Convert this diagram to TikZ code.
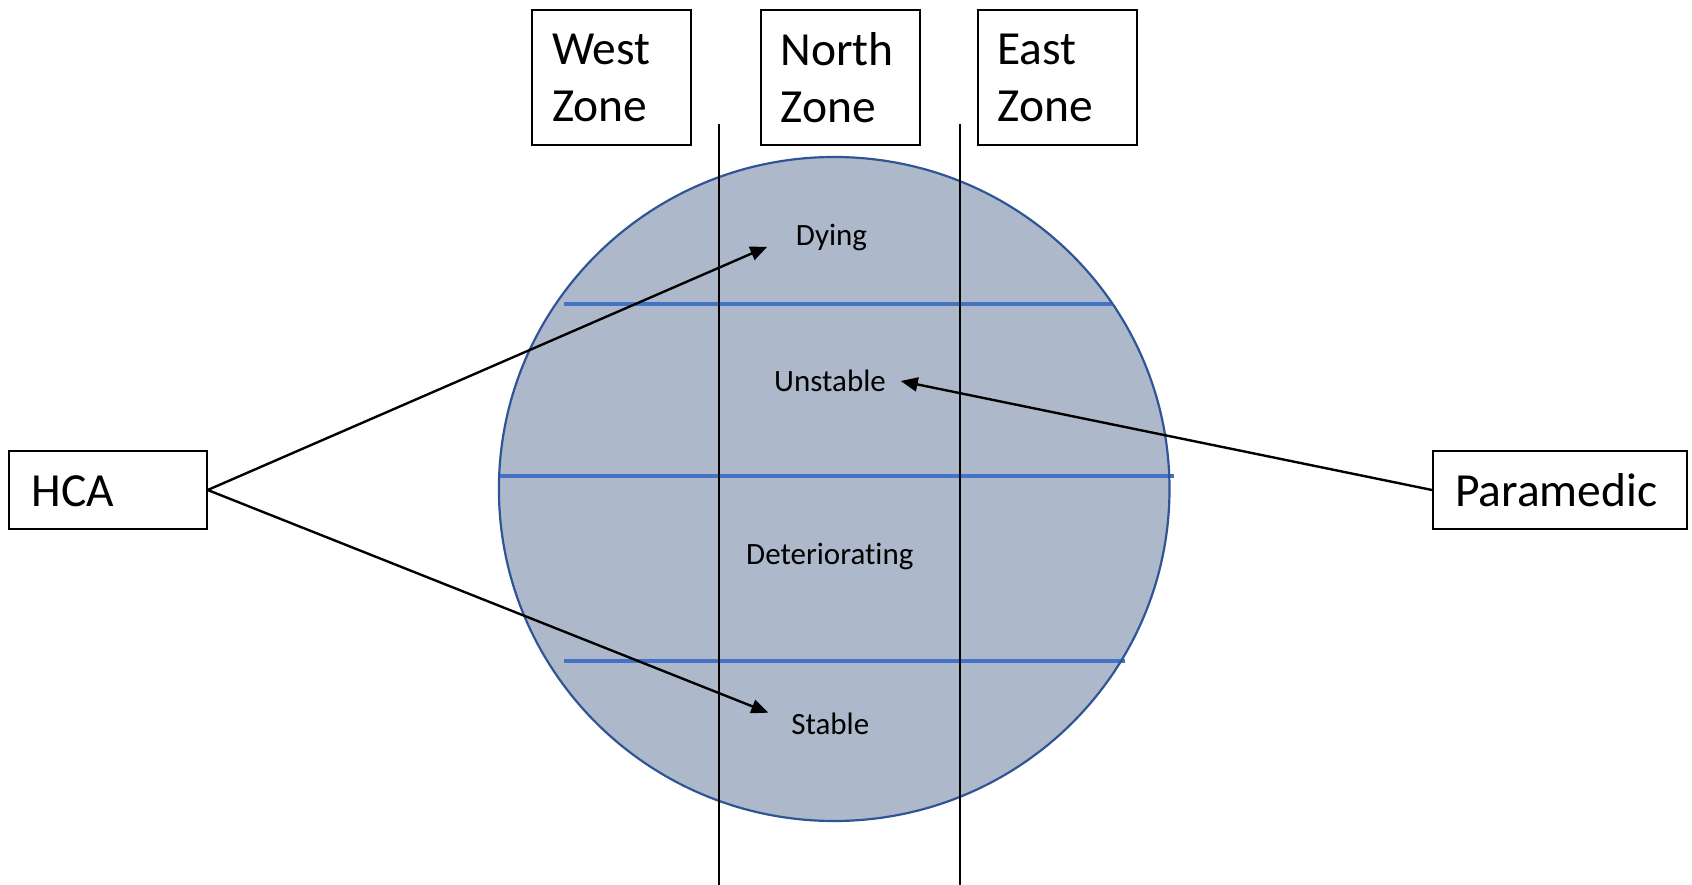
\documentclass[tikz,border=0pt]{standalone}
\usepackage{fontspec}
\setmainfont{Carlito}[Ligatures={NoCommon}]
\usetikzlibrary{arrows.meta}
\definecolor{discfill}{HTML}{ADB9CA}
\definecolor{discedge}{HTML}{2F5597}
\definecolor{bandline}{HTML}{4472C4}
\begin{document}
\begin{tikzpicture}[x=1pt,y=-1pt,
  zonebox/.style={draw=black,line width=2pt,fill=white,minimum width=159pt,minimum height=135pt,
    inner sep=0pt,text width=119pt,align=left,font=\fontsize{47.5}{57}\selectfont},
  rolebox/.style={draw=black,line width=2pt,fill=white,minimum height=78pt,inner sep=0pt,
    align=left,font=\fontsize{47.5}{57}\selectfont,text height=32pt,text depth=0pt},
  bandlabel/.style={anchor=base,inner sep=0pt,font=\fontsize{31}{37}\selectfont},
  zoneline/.style={draw=black,line width=1.8pt},
  band/.style={draw=bandline,line width=3.8pt},
  pointer/.style={draw=black,line width=2.4pt,-{Triangle[length=17pt,width=14pt]}}]
\useasboundingbox (0,0) rectangle (1692,885);
% disc
\fill[discfill] (834.2,489) ellipse [x radius=335.3, y radius=332];
\draw[band] (564,303.7) -- (1111.5,303.7);
\draw[band] (499,476) -- (1174,476);
\draw[band] (564,661) -- (1125,661);
\draw[discedge,line width=2.2pt] (834.2,489) ellipse [x radius=335.3, y radius=332];
% zone boxes and lines
\node[zonebox] (west) at (611.5,77.5) {West\\Zone};
\node[zonebox] (north) at (840,77.5) {North\\Zone};
\node[zonebox] (east) at (1057,77.5) {East\\Zone};
\coordinate (l1t) at (719,124); \coordinate (l1b) at (719,885);
\coordinate (l2t) at (960.3,124); \coordinate (l2b) at (960.3,885);
\draw[zoneline] (l1t) -- (l1b);
\draw[zoneline] (l2t) -- (l2b);
% band labels
\node[bandlabel] (dying) at (831.5,245.7) {Dying};
\node[bandlabel] (unstable) at (830,391.5) {Unstable};
\node[bandlabel] (deter) at (829.8,564) {Deteriorating};
\node[bandlabel] (stable) at (830.3,734.3) {Stable};
% roles
\node[rolebox,minimum width=197.4pt,text width=152.6pt] (hca) at (108,490) {HCA};
\node[rolebox,minimum width=253.7pt,text width=209.7pt] (para) at (1559.9,490) {Paramedic};
% arrows
\coordinate (tipd) at (767.3,246.7);
\coordinate (tips) at (768.3,712.7);
\coordinate (tipu) at (900.7,381);
\draw[pointer] (hca.east) -- (tipd);
\draw[pointer] (hca.east) -- (tips);
\draw[pointer] (para.west) -- (tipu);
\end{tikzpicture}
\end{document}
